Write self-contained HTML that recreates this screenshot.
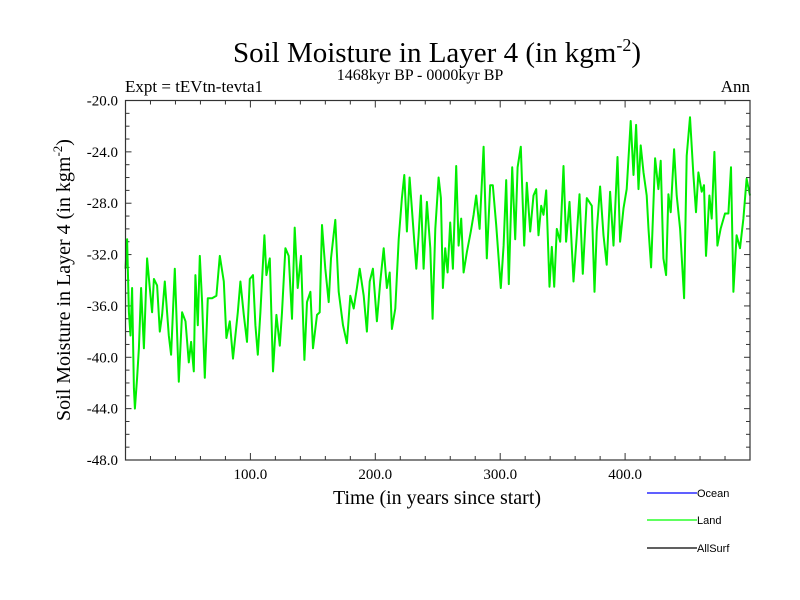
<!DOCTYPE html>
<html><head><meta charset="utf-8"><style>
body{margin:0;background:#fff}
svg{display:block}
text{font-family:"Liberation Serif",serif;fill:#000}
.s{font-family:"Liberation Sans",sans-serif}
</style></head><body>
<svg id="chart" width="800" height="600">
<text x="437" y="62" text-anchor="middle" font-size="29">Soil Moisture in Layer 4 (in kgm<tspan dy="-11" font-size="18">-2</tspan><tspan dy="11">)</tspan></text>
<text x="420" y="80" text-anchor="middle" font-size="16">1468kyr BP - 0000kyr BP</text>
<text x="125" y="92" font-size="17">Expt = tEVtn-tevta1</text>
<text x="750" y="92" text-anchor="end" font-size="17">Ann</text>
<text transform="translate(70,280) rotate(-90)" text-anchor="middle" font-size="20">Soil Moisture in Layer 4 (in kgm<tspan dy="-8" font-size="13">-2</tspan><tspan dy="8">)</tspan></text>
<text x="437" y="504" text-anchor="middle" font-size="20">Time (in years since start)</text>
<g id="ticks"></g>
<g id="series"></g>
<rect x="125.5" y="100.5" width="624.5" height="359.5" fill="none" stroke="#333" stroke-width="1.2"/>
<g>
<line x1="647" y1="493" x2="697" y2="493" stroke="#0000ff" stroke-width="1.2"/>
<text class="s" x="697" y="497" font-size="11">Ocean</text>
<line x1="647" y1="520" x2="697" y2="520" stroke="#00ff00" stroke-width="1.2"/>
<text class="s" x="697" y="524" font-size="11">Land</text>
<line x1="647" y1="548" x2="697" y2="548" stroke="#000" stroke-width="1.2"/>
<text class="s" x="697" y="552" font-size="11">AllSurf</text>
</g>
</svg>
<script>
const years=[0,1.3,2.7,4,5.3,6.7,7.5,9.3,10.7,12.5,14.7,17.3,20,21.3,22.7,25.3,27.5,29.3,31.5,34.7,36.5,39.5,42.7,45.3,48,50.7,52.5,54.7,56,57.9,59.5,61.3,63.5,65.9,69.3,72.8,75.5,78.7,80.8,83.5,86.1,89.9,92,94.7,97.3,99.5,102.1,104,105.9,108,111.2,112.8,115.5,118.1,120.8,123.5,125.3,128,130.7,133.3,135.5,137.9,140.5,143.2,145.3,148,150.1,153.3,155.5,157.3,160,162.7,164.5,168,170.7,174.1,177.3,180,182.7,185.3,187.5,190.7,193.3,195.5,198.1,201.3,204,206.7,209.3,211.5,213.3,216,218.7,221.3,223.2,225.3,227.5,230.1,232.8,234.7,236.5,238.7,241.3,244,245.9,248,250.7,252.5,254.1,256,257.9,260,262.1,264.8,266.7,268.8,270.7,273.3,276.5,278.7,280.8,283.5,286.7,289.3,292,294.1,296.8,300.5,302.7,304.8,306.9,309.6,312,313.9,316.5,319.2,321.3,324,326.7,328.8,330.7,332.8,334.7,336.8,339.5,341.3,343.2,345.3,348,350.7,352.8,355.5,358.7,361.3,363.5,366.1,369.3,373.3,375.5,377.3,380,382.7,385.3,388,390.7,393.9,396,398.7,401.3,404.5,406.7,408.8,410.7,412.5,414.7,417.3,418.7,420.8,424,426.7,428.5,430.7,432.8,434.7,436.5,439.2,441.3,444,447.2,449.3,452,454.7,456.8,458.7,461.3,463.2,464.8,467.5,469.3,471.5,473.9,476.5,480,482.7,484.8,486.7,489.3,492,494.7,497.3,500];
const land=[-33.1,-30.8,-36.5,-38.3,-34.6,-42.4,-44,-41.6,-39.3,-34.6,-39.3,-32.3,-35.2,-36.5,-33.9,-34.4,-38,-36.7,-34.1,-38.3,-39.8,-33.1,-41.9,-36.5,-37.2,-40.4,-38.8,-41.1,-33.6,-37.5,-32.1,-35.7,-41.6,-35.4,-35.4,-35.2,-32.1,-34.1,-38.5,-37.2,-40.1,-36.5,-34.1,-36.7,-38.8,-33.9,-33.6,-37.5,-39.8,-36.5,-30.5,-33.6,-32.3,-41.1,-36.7,-39.1,-36.5,-31.5,-32.1,-37,-29.9,-34.6,-32.1,-40.2,-35.7,-34.9,-39.3,-36.7,-36.5,-29.7,-33.1,-35.7,-32.3,-29.3,-34.9,-37.5,-38.9,-35.2,-36.2,-34.6,-33.1,-35.2,-38,-34.1,-33.1,-37.2,-34.1,-31.5,-34.6,-33.4,-37.8,-36.2,-30.8,-27.6,-25.8,-30.2,-26,-29.5,-33.1,-30.5,-27.4,-33.1,-27.9,-31.5,-37,-30,-26,-27.6,-34.6,-31.5,-33.4,-29.5,-33.1,-25.1,-31.3,-29.2,-33.4,-31.8,-30.2,-28.9,-27.4,-30,-23.6,-32.3,-26.6,-26.6,-29.7,-34.6,-31.3,-26.2,-34.3,-25.2,-30.8,-25.2,-23.6,-31.3,-26.4,-30.2,-27.4,-26.9,-30.5,-28.2,-28.9,-27,-34.5,-31.4,-34.5,-30,-31,-25.1,-31,-27.9,-34.1,-30.5,-27.3,-33.5,-27.6,-28.2,-34.9,-30.2,-26.7,-30.5,-32.8,-27.1,-31.3,-24.4,-31,-28.4,-26.9,-21.6,-25.8,-21.9,-26.9,-23.5,-25.6,-27.4,-30,-33,-24.5,-26.9,-24.7,-32.3,-33.6,-27.3,-28.7,-23.8,-27.4,-30,-35.4,-24.3,-21.3,-25.8,-28.7,-25.6,-27.1,-26.6,-32.1,-27.4,-29.2,-24,-31.3,-30,-28.8,-28.8,-25.2,-34.9,-30.5,-31.5,-29.2,-26.1,-27.4];
const yTickLabels=["-20.0","-24.0","-28.0","-32.0","-36.0","-40.0","-44.0","-48.0"];
const xTickLabels=["100.0","200.0","300.0","400.0"];
const NS="http://www.w3.org/2000/svg";
const X0=125.5,X1=750,Y0=100.5,Y1=460;
const xs=v=>X0+(v/500)*(X1-X0);
const ys=v=>Y0+((-20-v)/28)*(Y1-Y0);
const tg=document.getElementById('ticks');
function ln(x1,y1,x2,y2){const l=document.createElementNS(NS,'line');l.setAttribute('x1',x1);l.setAttribute('y1',y1);l.setAttribute('x2',x2);l.setAttribute('y2',y2);l.setAttribute('stroke','#333');l.setAttribute('stroke-width','1');


tg.appendChild(l);}
for(let v=-20;v>=-48;v--){const y=ys(v);const major=(v%4===0);const len=major?6:4;ln(X0,y,X0+len,y);ln(X1,y,X1-len,y);}
for(let v=0;v<=500;v+=20){const x=xs(v);const major=(v%100===0);const len=major?7:4;ln(x,Y1,x,Y1-len);ln(x,Y0,x,Y0+len);}
yTickLabels.forEach(s=>{const t=document.createElementNS(NS,'text');t.setAttribute('x',118);t.setAttribute('y',ys(parseFloat(s))+5);t.setAttribute('text-anchor','end');t.setAttribute('font-size','15');t.textContent=s;


tg.appendChild(t);});
xTickLabels.forEach(s=>{const t=document.createElementNS(NS,'text');t.setAttribute('x',xs(parseFloat(s)));t.setAttribute('y',479);t.setAttribute('text-anchor','middle');t.setAttribute('font-size','15');t.textContent=s;


tg.appendChild(t);});
const p=document.createElementNS(NS,'polyline');
p.setAttribute('points',years.map((yr,i)=>xs(yr).toFixed(1)+','+ys(land[i]).toFixed(1)).join(' '));
p.setAttribute('fill','none');p.setAttribute('stroke','#00ee00');p.setAttribute('stroke-width','2');p.setAttribute('stroke-linejoin','round');


document.getElementById('series').appendChild(p);
</script>
</body></html>
